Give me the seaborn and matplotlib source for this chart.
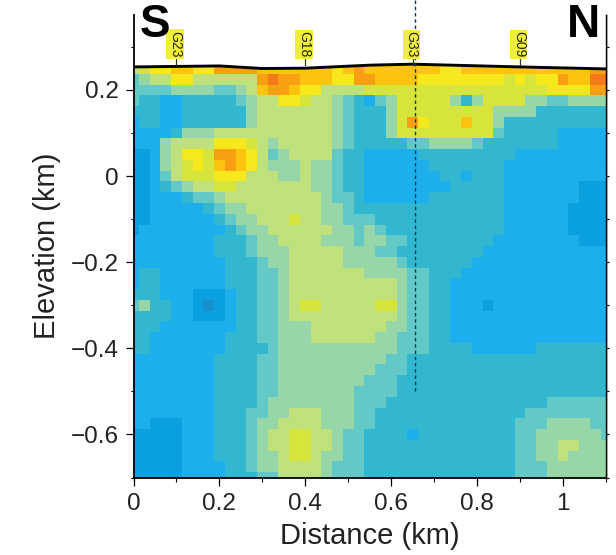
import matplotlib
matplotlib.use('Agg')
import matplotlib.pyplot as plt
import numpy as np
import pandas as pd
import seaborn as sns
from matplotlib.colors import ListedColormap

plt.rcParams['font.family'] = ['Liberation Sans', 'DejaVu Sans']

# colour class of each cell, one string per elevation row (0.25 km down to -0.70 km)
# distance 0 to 0.525 km
south_cells = [
    "5677887799998888888789", "3455775555559a99888779", "3333444433458998775555",
    "3221122222345577655432", "2221122222245555555432", "1221122222245555555432",
    "1111244455555555555432", "1114555577765455555432", "0014577699875345555322",
    "0014567689875444544322", "0013566677755544544322", "0012345566555555544322",
    "0011123345555555554332", "0011111234455555554432", "0011111123445556554433",
    "0111111112344555555443", "1111111122234455554443", "1111111122234445555544",
    "1111111112223445555544", "1221111112223345555555", "1221111112223345555555",
    "2221110001223345555555", "3422110x01223345665555", "2222110001223345555555",
    "2221111111223344455555", "2211111112223344455555", "2211111112222344444444",
    "1111111122223344444444", "1111111122223344444444", "1111111122223344444444",
    "1111111122223344444443", "1111111122223444444443", "1111111122233445554443",
    "1100011122234455554443", "0000011122234556655433", "0000011122234556655433",
    "0000011122234456654433", "0000011112234455554333", "0000011112223355554333",
]
# distance 0.55 to 1.10 km
north_cells = [
    "88888887788888888888899", "988887777777767677988aa", "66666666666666666777799",
    "13466666424666644334444", "22466666666644442222222", "22469766686642222222222",
    "22466666666632222211111", "22223344443222222211111", "11111222222222111111111",
    "11111122222221111111111", "11111112212221111111111", "11111111222221111111000",
    "11111122222221111111000", "22222222222221111110000", "32222222222221111110000",
    "43222222222221111110000", "44332222222211111111000", "43322222222111111111111",
    "44432222221111111111111", "44443322211111111111111", "55543322111111111111111",
    "55543322111111111111111", "56643322111011111111111", "55543322111111111111111",
    "55443322111111111111111", "54433322111111111111111", "44433322221111112222222",
    "44332222222222222222222", "43332222222222222222222", "33322222222222222222222",
    "33322222222222222222222", "33222222222222222333333", "32222222222222233333333",
    "32222222222222333444433", "22221222222222334444443", "22222222222222334455444",
    "22222222222222334454444", "22222222222222333444444", "22222222222222333444444",
]
class_values = {'x': -1, '0': 0, '1': 1, '2': 2, '3': 3, '4': 4, '5': 5,
                '6': 6, '7': 7, '8': 8, '9': 9, 'a': 10}
class_colors = ['#1a8fd0', '#0ba0e0', '#1cafec', '#31b7cf', '#63c9c6', '#96d6a8',
                '#bfe17c', '#d6e43c', '#f7e81c', '#fcc40f', '#f8a012', '#f27a1a']

surface_dist = [0, 0.2, 0.3, 0.4, 0.55, 0.65, 0.9, 1.1]
surface_elev = [0.2534, 0.2557, 0.2497, 0.2505, 0.2575, 0.2598, 0.2534, 0.2488]

station_names = ['G23', 'G18', 'G33', 'G09']
station_dist = [0.1, 0.4, 0.65, 0.9]

dist_ticks = [0, 0.2, 0.4, 0.6, 0.8, 1]
dist_labels = ['0', '0.2', '0.4', '0.6', '0.8', '1']
dist_minor = [0.1, 0.3, 0.5, 0.7, 0.9, 1.1]
elev_ticks = [0.2, 0, -0.2, -0.4, -0.6]
elev_labels = ['0.2', '0', '\u22120.2', '\u22120.4', '\u22120.6']
elev_minor = [0.3, 0.1, -0.1, -0.3, -0.5, -0.7]
elev_all = [0.3, 0.2, 0.1, 0, -0.1, -0.2, -0.3, -0.4, -0.5, -0.6, -0.7]


# heatmap cells sit on a 0.025 km node spacing
def to_col(d):
    return 40 * np.asarray(d, dtype=float) + 0.5


def to_row(e):
    return 10.5 - 40 * np.asarray(e, dtype=float)


rows = [a + b for a, b in zip(south_cells, north_cells)]
grid = pd.DataFrame([[class_values[c] for c in r] for r in rows])

W, H = 616, 555
fig = plt.figure(figsize=(W / 100, H / 100), dpi=100)
ax = fig.add_axes([133.5 / W, 1 - 477.5 / H, 472.5 / W, 462.5 / H])

sns.heatmap(grid, ax=ax, cmap=ListedColormap(class_colors), vmin=-1.5, vmax=10.5,
            cbar=False, xticklabels=False, yticklabels=False)
ax.set_xlim(to_col(0), to_col(1.1))
ax.set_ylim(to_row(-0.7), to_row(0.374))

# blank out everything above the ground surface
top_row = float(to_row(0.374))
ax.fill_between(to_col(surface_dist), to_row(surface_elev), top_row, color='white', zorder=3)
ax.plot(to_col(surface_dist), to_row(surface_elev), color='black', lw=2.1, zorder=5)

# profile crossing
ax.plot(to_col([0.655, 0.655]), to_row([0.409, -0.5]), color='#0d3a5c', lw=1,
        ls=(0, (2.5, 2)), zorder=6, clip_on=False)

for name, d in zip(station_names, station_dist):
    ax.plot(to_col([d, d]), to_row([0.275, 0.258]), color='#333333', lw=0.9, zorder=5)
    ax.text(to_col(d - 0.003), to_row(0.275), name, rotation=-90, ha='center', va='bottom',
            fontsize=10, color='#222200', zorder=7,
            bbox=dict(boxstyle='square,pad=0.12', fc='#f0ee3c', ec='none'))

ax.text(140 / W, 1 - 37 / H, 'S', transform=fig.transFigure, fontsize=33, fontweight='bold',
        ha='left', va='baseline', zorder=8)
ax.text(567 / W, 1 - 37 / H, 'N', transform=fig.transFigure, fontsize=33, fontweight='bold',
        ha='left', va='baseline', zorder=8)

for side in ['left', 'right', 'bottom']:
    ax.spines[side].set_visible(True)
    ax.spines[side].set_color('black')
    ax.spines[side].set_zorder(6)
ax.spines['left'].set_linewidth(1.3)
ax.spines['right'].set_linewidth(1.0)
ax.spines['bottom'].set_linewidth(1.3)
ax.spines['top'].set_visible(False)

ax.set_xticks(to_col(dist_ticks))
ax.set_xticklabels(dist_labels, fontsize=17.5, color='#222222', rotation=0)
ax.set_xticks(to_col(dist_minor), minor=True)
ax.set_yticks(to_row(elev_ticks))
ax.set_yticklabels(elev_labels, fontsize=17.5, color='#222222', rotation=0)
ax.set_yticks(to_row(elev_minor), minor=True)
ax.tick_params(axis='both', which='major', length=5.5, width=0.9, pad=5)
ax.tick_params(axis='x', which='major', pad=6)
ax.tick_params(axis='both', which='minor', length=2.5, width=0.8)
ax.tick_params(axis='x', which='minor', length=3)

# short ticks on the north side
right_axis = ax.secondary_yaxis('right')
right_axis.set_yticks(to_row(elev_all))
right_axis.tick_params(length=2.5, width=0.8, labelright=False)
right_axis.spines['right'].set_linewidth(1.0)

ax.set_xlabel('Distance (km)', fontsize=21, color='#222222', labelpad=5)
ax.set_ylabel('Elevation (km)', fontsize=21, color='#222222', labelpad=7)

fig.savefig('out.png', dpi=100)
